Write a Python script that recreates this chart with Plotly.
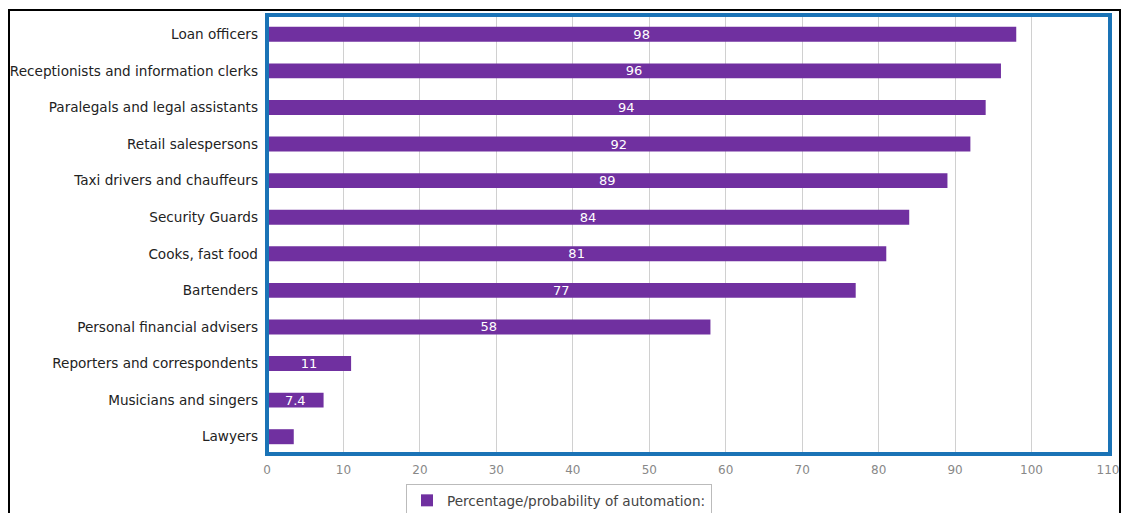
import plotly.graph_objects as go

categories = [
    "Loan officers",
    "Receptionists and information clerks",
    "Paralegals and legal assistants",
    "Retail salespersons",
    "Taxi drivers and chauffeurs",
    "Security Guards",
    "Cooks, fast food",
    "Bartenders",
    "Personal financial advisers",
    "Reporters and correspondents",
    "Musicians and singers",
    "Lawyers",
]
values = [98, 96, 94, 92, 89, 84, 81, 77, 58, 11, 7.4, 3.5]
labels = ["98", "96", "94", "92", "89", "84", "81", "77", "58", "11", "7.4", ""]
x_ticks = list(range(0, 111, 10))
series_name = "Percentage/probability of automation:"

W, H = 1125, 513
L, R, T, B = 267, 17, 16, 58
pw = W - L - R
ph = H - T - B

def px_x(x):
    return (x - L) / pw

def px_y(y):
    return (H - B - y) / ph

fig = go.Figure()
fig.add_trace(go.Bar(
    y=categories,
    x=values,
    orientation="h",
    name=series_name,
    marker=dict(color="#7030a0", line=dict(width=0)),
    text=labels,
    textposition="inside",
    insidetextanchor="middle",
    textangle=0,
    constraintext="none",
    textfont=dict(color="white", size=13, family="DejaVu Sans"),
    showlegend=True,
))

fig.update_layout(
    width=W,
    height=H,
    margin=dict(l=L, r=R, t=T, b=B, autoexpand=False),
    paper_bgcolor="white",
    plot_bgcolor="white",
    bargap=0.59,
    font=dict(family="DejaVu Sans", color="#333333"),
    xaxis=dict(
        range=[0, 110],
        tickvals=x_ticks,
        showgrid=True,
        gridcolor="#d0d0d0",
        gridwidth=1,
        zeroline=False,
        tickfont=dict(size=12, color="#888888"),
        ticks="outside",
        ticklen=4,
        tickcolor="rgba(0,0,0,0)",
        showline=False,
    ),
    yaxis=dict(
        categoryorder="array",
        categoryarray=categories[::-1],
        tickfont=dict(size=13.6, color="#222222"),
        ticks="",
        ticklabelstandoff=8,
        showgrid=False,
        showline=False,
    ),
    legend=dict(
        orientation="h",
        x=px_x(559),
        xanchor="center",
        y=px_y(484),
        yanchor="top",
        bordercolor="#bbbbbb",
        borderwidth=1,
        font=dict(size=13.6, color="#444444"),
        itemsizing="constant",
    ),
    shapes=[
        dict(type="rect", xref="paper", yref="paper",
             x0=px_x(9), x1=px_x(1120), y0=px_y(530), y1=px_y(10),
             line=dict(color="black", width=2), layer="below"),
        dict(type="rect", xref="paper", yref="paper",
             x0=0, x1=px_x(1110), y0=px_y(454), y1=px_y(15),
             line=dict(color="#1a73b6", width=4), layer="above"),
    ],
)

fig.write_html(
    "out.html",
    config={"displayModeBar": False},
    post_script="document.body.style.margin='0';document.body.style.overflow='hidden';",
)
